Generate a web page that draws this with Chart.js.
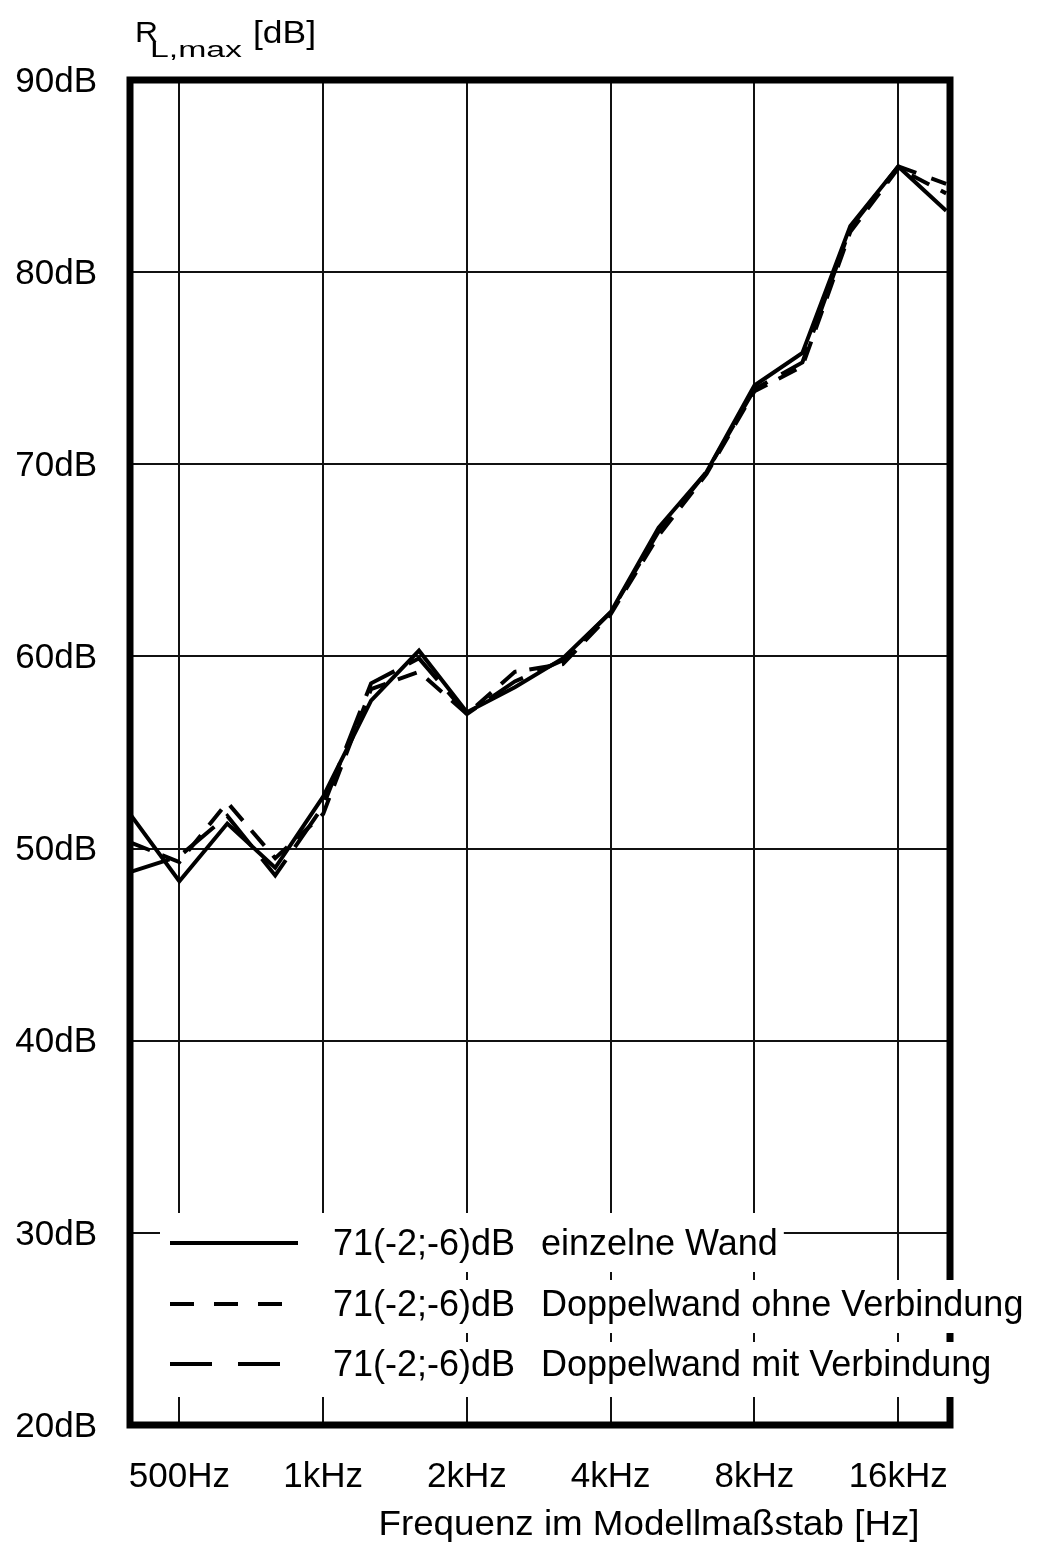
<!DOCTYPE html>
<html>
<head>
<meta charset="utf-8">
<script src="https://cdn.jsdelivr.net/npm/chart.js@4.4.0/dist/chart.umd.min.js"></script>
<style>
  html, body { margin: 0; padding: 0; background: #ffffff; }
  canvas { display: block; }
</style>
</head>
<body>
<canvas id="chart" width="1038" height="1544"></canvas>
<script>
// Third-octave band centre frequencies (Hz)
const bands = [400, 500, 630, 800, 1000, 1250, 1600, 2000, 2500, 3150, 4000, 5000, 6300, 8000, 10000, 12500, 16000, 20000];

// R_L,max per band (dB)
const einzelneWand   = [51.7, 48.3, 51.3, 49.0, 52.7, 57.7, 60.3, 57.1, 58.4, 59.9, 62.3, 66.7, 69.6, 74.1, 75.8, 82.4, 85.5, 83.2];
const ohneVerbindung = [50.3, 49.3, 52.4, 49.5, 51.8, 58.3, 59.2, 57.0, 59.2, 59.6, 62.2, 66.3, 69.5, 73.8, 75.1, 82.1, 85.4, 84.1];
const mitVerbindung  = [48.8, 49.6, 51.7, 48.6, 52.2, 58.6, 59.9, 57.0, 58.7, 59.8, 62.3, 66.5, 69.6, 73.9, 75.3, 82.3, 85.5, 84.6];

// Octave ticks on the frequency axis
const tickFreqs  = [500, 1000, 2000, 4000, 8000, 16000];
const tickLabels = ['500Hz', '1kHz', '2kHz', '4kHz', '8kHz', '16kHz'];

// Level axis
const yMin = 20, yMax = 90, yStep = 10;

// Legend entries
const ratingText  = ['71(-2;-6)dB', '71(-2;-6)dB', '71(-2;-6)dB'];
const seriesNames = ['einzelne Wand', 'Doppelwand ohne Verbindung', 'Doppelwand mit Verbindung'];

const xTitle = 'Frequenz im Modellmaßstab [Hz]';

const FONT = '"Liberation Sans", Arial, Helvetica, sans-serif';
const INK = '#000000';

const dashes = [[], [20, 13], [40, 16]];
const legendDashes = [[], [24, 20], [42, 26]];
const legendSampleEnd = [298, 282, 280];

function toPoints(values) {
  return values.map((v, i) => ({ x: i, y: v }));
}

// Draw a string horizontally stretched to a given width
function stretchedText(ctx, str, x, y, font, width, align) {
  ctx.save();
  ctx.font = font;
  const w = ctx.measureText(str).width;
  const sx = width ? width / w : 1;
  ctx.translate(x, y);
  ctx.scale(sx, 1);
  ctx.textAlign = align || 'left';
  ctx.fillText(str, 0, 0);
  ctx.restore();
}

const decorations = {
  id: 'decorations',
  beforeDraw(chart) {
    const ctx = chart.ctx;
    ctx.save();
    ctx.fillStyle = '#ffffff';
    ctx.fillRect(0, 0, chart.width, chart.height);
    ctx.restore();
  },
  afterDatasetsDraw(chart) {
    const { ctx, chartArea: a } = chart;
    ctx.save();
    ctx.strokeStyle = INK;
    ctx.lineWidth = 7;
    ctx.lineJoin = 'miter';
    ctx.strokeRect(a.left, a.top, a.right - a.left, a.bottom - a.top);
    ctx.restore();
  },
  afterDraw(chart) {
    const ctx = chart.ctx;
    ctx.save();
    ctx.fillStyle = INK;
    ctx.textBaseline = 'alphabetic';

    // Axis title of the level axis: R_L,max [dB]
    stretchedText(ctx, 'R', 135, 42, '30px ' + FONT, 23);
    stretchedText(ctx, 'L,max', 150, 57, '22px ' + FONT, 92);
    stretchedText(ctx, '[dB]', 253, 43, '31px ' + FONT, 63);

    // Axis title of the frequency axis
    ctx.textBaseline = 'middle';
    stretchedText(ctx, xTitle, 649, 1525, '35px ' + FONT, 541, 'center');

    // Legend
    const rowTop = [1213, 1280, 1342];
    const rowBot = [1272, 1333, 1397];
    const rowMid = [1245, 1306, 1366];
    const sampleX0 = 170;
    const textX = 333, nameX = 541;
    const legendFont = '36px ' + FONT;

    ctx.fillStyle = '#ffffff';
    ctx.fillRect(160, rowTop[0], textX - 160, rowBot[2] - rowTop[0]);
    ctx.font = legendFont;
    for (let i = 0; i < seriesNames.length; i++) {
      const w = ctx.measureText(seriesNames[i]).width;
      ctx.fillStyle = '#ffffff';
      ctx.fillRect(textX - 2, rowTop[i], nameX + w + 8 - textX, rowBot[i] - rowTop[i]);
    }
    for (let i = 0; i < seriesNames.length; i++) {
      ctx.strokeStyle = INK;
      ctx.lineWidth = 4;
      ctx.setLineDash(legendDashes[i]);
      ctx.beginPath();
      ctx.moveTo(sampleX0, rowMid[i] - 2);
      ctx.lineTo(legendSampleEnd[i], rowMid[i] - 2);
      ctx.stroke();
      ctx.setLineDash([]);
      ctx.fillStyle = INK;
      ctx.font = legendFont;
      ctx.textAlign = 'left';
      ctx.fillText(ratingText[i], textX, rowMid[i]);
      ctx.fillText(seriesNames[i], nameX, rowMid[i]);
    }
    ctx.restore();
  }
};

const makeDataset = (label, values, dash) => ({
  label,
  data: toPoints(values),
  borderColor: INK,
  backgroundColor: INK,
  borderWidth: 4,
  borderDash: dash,
  pointRadius: 0,
  tension: 0,
  fill: false,
  borderJoinStyle: 'miter',
  borderCapStyle: 'butt'
});

new Chart(document.getElementById('chart'), {
  type: 'line',
  data: {
    datasets: [
      makeDataset(seriesNames[0], einzelneWand, dashes[0]),
      makeDataset(seriesNames[1], ohneVerbindung, dashes[1]),
      makeDataset(seriesNames[2], mitVerbindung, dashes[2])
    ]
  },
  options: {
    responsive: false,
    devicePixelRatio: 1,
    animation: false,
    events: [],
    layout: { padding: { top: 80, right: 88, left: 0, bottom: 0 } },
    plugins: {
      legend: { display: false },
      tooltip: { enabled: false },
      title: { display: false }
    },
    scales: {
      x: {
        type: 'linear',
        min: -0.03,
        max: 17.08,
        afterBuildTicks(scale) {
          scale.ticks = tickFreqs.map(f => ({ value: bands.indexOf(f) }));
        },
        afterFit(scale) { scale.height = 119; },
        grid: { color: '#111111', lineWidth: 2, drawTicks: false },
        border: { display: false },
        ticks: {
          autoSkip: false,
          maxRotation: 0,
          padding: 31,
          color: INK,
          font: { family: FONT, size: 35 },
          callback(value) {
            const k = tickFreqs.indexOf(bands[value]);
            return k >= 0 ? tickLabels[k] : '';
          }
        }
      },
      y: {
        type: 'linear',
        min: yMin,
        max: yMax,
        afterFit(scale) { scale.width = 130; },
        grid: { color: '#111111', lineWidth: 2, drawTicks: false },
        border: { display: false },
        ticks: {
          stepSize: yStep,
          padding: 33,
          labelOffset: 2,
          color: INK,
          font: { family: FONT, size: 35 },
          callback: v => v + 'dB'
        }
      }
    }
  },
  plugins: [decorations]
});
</script>
</body>
</html>
